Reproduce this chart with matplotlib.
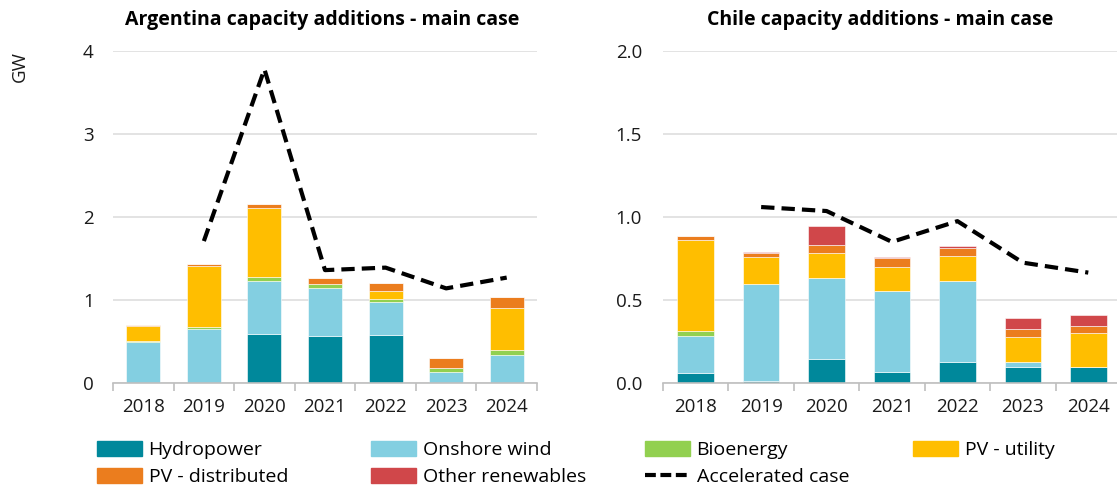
import numpy as np
import matplotlib
matplotlib.use("Agg")
import matplotlib.pyplot as plt
from matplotlib.patches import Patch
from matplotlib.lines import Line2D

plt.rcParams['font.family'] = ['Open Sans', 'DejaVu Sans']

years = ["2018", "2019", "2020", "2021", "2022", "2023", "2024"]
techs = ["Hydropower", "Onshore wind", "Bioenergy", "PV - utility",
         "PV - distributed", "Other renewables"]
colors = ["#00889B", "#83CFE1", "#92D050", "#FFBE00", "#EB7D1E", "#D0474A"]

# Argentina, GW
arg_hydro = [0.0, 0.0, 0.595, 0.567, 0.579, 0.0, 0.0]
arg_wind = [0.49, 0.656, 0.636, 0.579, 0.393, 0.134, 0.34]
arg_bio = [0.015, 0.016, 0.048, 0.052, 0.036, 0.052, 0.053]
arg_pvu = [0.185, 0.733, 0.826, 0.0, 0.105, 0.0, 0.514]
arg_pvd = [0.012, 0.032, 0.053, 0.065, 0.097, 0.118, 0.133]
arg_other = [0.0, 0.0, 0.0, 0.0, 0.0, 0.0, 0.0]
arg_accel = [np.nan, 1.71, 3.78, 1.36, 1.39, 1.14, 1.27]

# Chile, GW
chl_hydro = [0.06, 0.01, 0.143, 0.066, 0.124, 0.094, 0.094]
chl_wind = [0.223, 0.586, 0.488, 0.486, 0.488, 0.035, 0.0]
chl_bio = [0.032, 0.0, 0.0, 0.0, 0.0, 0.0, 0.0]
chl_pvu = [0.544, 0.161, 0.15, 0.145, 0.153, 0.146, 0.205]
chl_pvd = [0.025, 0.026, 0.052, 0.054, 0.05, 0.048, 0.042]
chl_other = [0.0, 0.008, 0.111, 0.006, 0.008, 0.069, 0.067]
chl_accel = [np.nan, 1.06, 1.036, 0.85, 0.975, 0.725, 0.665]

W, H = 1117, 487
fig = plt.figure(figsize=(W / 100, H / 100), dpi=100)


def px_axes(x0, x1, y0, y1):
    return fig.add_axes([x0 / W, 1 - y1 / H, (x1 - x0) / W, (y1 - y0) / H])


def draw(ax, series, accel, ymax, yticks, fmt, pad):
    x = np.arange(len(years))
    bottom = np.zeros(len(years))
    for vals, c in zip(series, colors):
        vals = np.array(vals)
        ax.bar(x, vals, 0.56, bottom=bottom, color=c, edgecolor="white",
               linewidth=0.4, zorder=2)
        bottom += vals
    ax.plot(x, accel, color="black", lw=3.0, dashes=(3.2, 1.7),
            dash_capstyle="butt", zorder=3)
    ax.set_xlim(-0.5, len(years) - 0.5)
    ax.set_ylim(0, ymax)
    ax.set_yticks(yticks)
    ax.set_yticklabels([fmt.format(v) for v in yticks])
    ax.set_xticks(x)
    ax.set_xticklabels(years)
    ax.set_xticks(np.arange(-0.5, len(years)), minor=True)
    ax.tick_params(axis="x", which="major", length=0, pad=11, labelsize=13.5,
                   colors="#1a1a1a")
    ax.tick_params(axis="x", which="minor", length=6, width=1.2,
                   color="#BFBFBF")
    ax.tick_params(axis="y", length=0, pad=pad, labelsize=13.5,
                   colors="#1a1a1a")
    for s in ["left", "right", "top"]:
        ax.spines[s].set_visible(False)
    ax.spines["bottom"].set_color("#BFBFBF")
    ax.spines["bottom"].set_linewidth(1.2)
    ax.spines["bottom"].set_zorder(4)
    ax.grid(axis="y", color="#E3E3E3", lw=1.4, zorder=0)
    ax.set_axisbelow(True)


ax1 = px_axes(113, 537, 51, 383)
draw(ax1, [arg_hydro, arg_wind, arg_bio, arg_pvu, arg_pvd, arg_other],
     arg_accel, 4, [0, 1, 2, 3, 4], "{:.0f}", 14)

ax2 = px_axes(663, 1121, 51, 383)
draw(ax2, [chl_hydro, chl_wind, chl_bio, chl_pvu, chl_pvd, chl_other],
     chl_accel, 2.0, [0.0, 0.5, 1.0, 1.5, 2.0], "{:.1f}", 15)

fig.text(322 / W, 1 - 20 / H, "Argentina capacity additions - main case",
         ha="center", va="center", fontsize=14, fontweight="bold")
fig.text(880 / W, 1 - 20 / H, "Chile capacity additions - main case",
         ha="center", va="center", fontsize=14, fontweight="bold")
fig.text(20 / W, 1 - 67 / H, "GW", rotation=90, ha="center", va="center",
         fontsize=13.5, color="#1a1a1a")

# legend, drawn as four columns
handles = [Patch(color=c) for c in colors]
handles.append(Line2D([], [], color="black", lw=3.0, dashes=(2.6, 1.1),
                      dash_capstyle="butt"))
labels = techs + ["Accelerated case"]
columns = [[0, 4], [1, 5], [2, 6], [3]]
col_x = [97, 371, 645, 913]
for xs, idx in zip(col_x, columns):
    fig.legend([handles[i] for i in idx], [labels[i] for i in idx],
               loc="upper left", bbox_to_anchor=(xs / W, 1 - 441 / H),
               frameon=False, fontsize=14, handlelength=2.3,
               handleheight=0.8, handletextpad=0.35, labelspacing=0.45,
               borderaxespad=0, borderpad=0)

fig.savefig("out.png", dpi=100)
